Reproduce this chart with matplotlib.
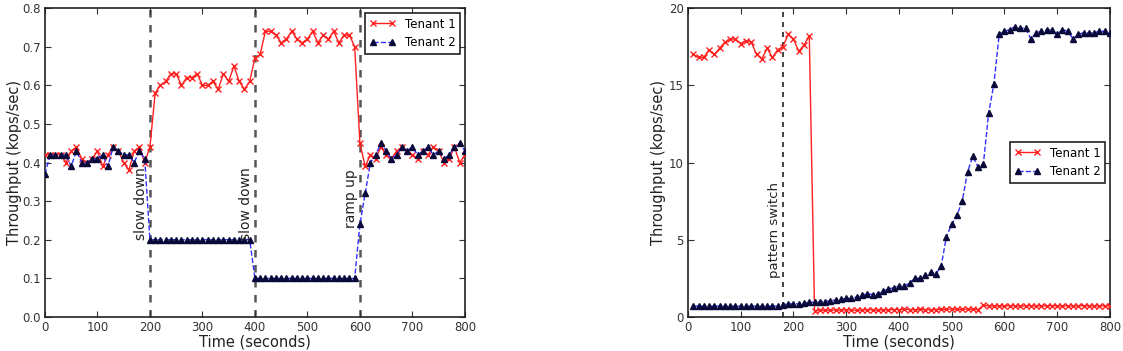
import matplotlib
matplotlib.use("Agg")
import matplotlib.pyplot as plt
import numpy as np

# ---- Left panel data ----
t_left = list(range(0, 801, 10))
left_t1 = [0.42, 0.42, 0.42, 0.42, 0.40, 0.43, 0.44, 0.41, 0.40, 0.41,
           0.43, 0.39, 0.42, 0.44, 0.43, 0.40, 0.38, 0.43, 0.44, 0.40,
           0.44, 0.58, 0.60, 0.61, 0.63, 0.63, 0.60, 0.62, 0.62, 0.63,
           0.60, 0.60, 0.61, 0.59, 0.63, 0.61, 0.65, 0.61, 0.59, 0.61,
           0.67, 0.68, 0.74, 0.74, 0.73, 0.71, 0.72, 0.74, 0.72, 0.71,
           0.72, 0.74, 0.71, 0.73, 0.72, 0.74, 0.71, 0.73, 0.73, 0.70,
           0.45, 0.39, 0.42, 0.41, 0.44, 0.42, 0.41, 0.43, 0.44, 0.43,
           0.42, 0.41, 0.43, 0.42, 0.44, 0.43, 0.40, 0.41, 0.44, 0.40,
           0.42]
left_t2 = [0.37, 0.42, 0.42, 0.42, 0.42, 0.39, 0.43, 0.40, 0.40, 0.41,
           0.41, 0.42, 0.39, 0.44, 0.43, 0.42, 0.42, 0.40, 0.43, 0.41,
           0.20, 0.20, 0.20, 0.20, 0.20, 0.20, 0.20, 0.20, 0.20, 0.20,
           0.20, 0.20, 0.20, 0.20, 0.20, 0.20, 0.20, 0.20, 0.20, 0.20,
           0.10, 0.10, 0.10, 0.10, 0.10, 0.10, 0.10, 0.10, 0.10, 0.10,
           0.10, 0.10, 0.10, 0.10, 0.10, 0.10, 0.10, 0.10, 0.10, 0.10,
           0.24, 0.32, 0.40, 0.42, 0.45, 0.43, 0.41, 0.42, 0.44, 0.43,
           0.44, 0.42, 0.43, 0.44, 0.42, 0.43, 0.41, 0.42, 0.44, 0.45,
           0.43]
left_events = [200, 400, 600]
left_event_labels = ["slow down", "slow down", "ramp up"]
left_label_y = [0.20, 0.20, 0.23]

# ---- Right panel data ----
t_right = list(range(10, 801, 10))
right_t1 = [17.0, 16.8, 16.8, 17.3, 17.0, 17.4, 17.8, 18.0, 18.0, 17.7,
            17.9, 17.8, 17.0, 16.7, 17.4, 16.8, 17.3, 17.5, 18.3, 18.0,
            17.2, 17.6, 18.2, 0.40, 0.42, 0.45, 0.43, 0.45, 0.44, 0.46,
            0.45, 0.43, 0.46, 0.47, 0.45, 0.44, 0.46, 0.45, 0.48, 0.47,
            0.50, 0.48, 0.46, 0.49, 0.47, 0.45, 0.48, 0.50, 0.49, 0.52,
            0.50, 0.49, 0.51, 0.50, 0.48, 0.75, 0.72, 0.70, 0.72, 0.71,
            0.73, 0.72, 0.70, 0.72, 0.73, 0.71, 0.72, 0.71, 0.73, 0.72,
            0.70, 0.72, 0.71, 0.72, 0.73, 0.71, 0.72, 0.71, 0.72, 0.72]
right_t2 = [0.70, 0.70, 0.70, 0.70, 0.70, 0.70, 0.70, 0.70, 0.70, 0.70,
            0.70, 0.70, 0.70, 0.70, 0.70, 0.70, 0.70, 0.80, 0.85, 0.85,
            0.85, 0.90, 0.95, 0.95, 1.00, 1.00, 1.05, 1.10, 1.15, 1.20,
            1.20, 1.30, 1.40, 1.50, 1.45, 1.50, 1.70, 1.80, 1.90, 2.00,
            2.00, 2.20, 2.50, 2.50, 2.70, 2.90, 2.80, 3.30, 5.20, 6.00,
            6.60, 7.50, 9.40, 10.4, 9.70, 9.90, 13.2, 15.1, 18.3, 18.5,
            18.6, 18.8, 18.7, 18.7, 18.0, 18.4, 18.5, 18.6, 18.6, 18.3,
            18.6, 18.5, 18.0, 18.3, 18.4, 18.4, 18.4, 18.5, 18.5, 18.4]
right_event = 180
right_event_label = "pattern switch"

plt.rcParams['font.family'] = ['DejaVu Sans']
fig = plt.figure(figsize=(11.23, 3.51), dpi=100)

tick_color = '#333333'

def style(ax):
    ax.tick_params(direction='in', top=True, right=True, labelsize=8.5,
                   colors=tick_color, length=4, width=0.8, pad=3)
    for s in ax.spines.values():
        s.set_linewidth(1.2)
        s.set_color('#222222')

t1_kw = dict(color='#ff2020', linestyle='-', linewidth=1.0, marker='x',
             markersize=4, markeredgewidth=1.0, label='Tenant 1')
t2_kw = dict(color='#3030ff', linestyle='--', linewidth=1.0, marker='^',
             markersize=5, markerfacecolor='#0a0a3a', markeredgecolor='#0a0a3a',
             label='Tenant 2')

# Left
ax1 = fig.add_axes([0.040, 0.097, 0.374, 0.880])
for xe in left_events:
    ax1.axvline(xe, color='#555555', linestyle=(0, (3, 3)), linewidth=1.8, zorder=1)
ax1.plot(t_left, left_t1, zorder=3, **t1_kw)
ax1.plot(t_left, left_t2, zorder=3, **t2_kw)
for xe, lab, yl in zip(left_events, left_event_labels, left_label_y):
    ax1.text(xe - 4, yl, lab, rotation=90, ha='right', va='bottom',
             fontsize=10, color='#222222')
ax1.set_xlim(0, 800)
ax1.set_ylim(0, 0.8)
ax1.set_xticks(range(0, 801, 100))
ax1.set_yticks(np.arange(0, 0.81, 0.1))
ax1.set_yticklabels([f"{v:.1f}" for v in np.arange(0, 0.81, 0.1)])
ax1.set_xlabel('Time (seconds)', fontsize=10.5, color='#222222', labelpad=0)
ax1.set_ylabel('Throughput (kops/sec)', fontsize=10.5, color='#222222', labelpad=0)
style(ax1)
leg1 = ax1.legend(loc='upper right', fontsize=8.5, fancybox=False, numpoints=2,
                  borderaxespad=0.4, handlelength=2.2, framealpha=1)
leg1.get_frame().set_edgecolor('#222222')
leg1.get_frame().set_linewidth(1.2)

# Right
ax2 = fig.add_axes([0.6126, 0.097, 0.3758, 0.880])
ax2.axvline(right_event, color='#222222', linestyle=(0, (3, 3)), linewidth=1.2, zorder=1)
ax2.plot(t_right, right_t1, zorder=3, **t1_kw)
ax2.plot(t_right, right_t2, zorder=3, **t2_kw)
ax2.text(right_event - 4, 2.5, right_event_label, rotation=90, ha='right',
         va='bottom', fontsize=9.5, color='#222222')
ax2.set_xlim(0, 800)
ax2.set_ylim(0, 20)
ax2.set_xticks(range(0, 801, 100))
ax2.set_yticks(range(0, 21, 5))
ax2.set_xlabel('Time (seconds)', fontsize=10.5, color='#222222', labelpad=0)
ax2.set_ylabel('Throughput (kops/sec)', fontsize=10.5, color='#222222', labelpad=2)
style(ax2)
leg2 = ax2.legend(loc='center right', fontsize=8.5, fancybox=False, numpoints=2,
                  borderaxespad=0.4, handlelength=2.2, framealpha=1)
leg2.get_frame().set_edgecolor('#222222')
leg2.get_frame().set_linewidth(1.2)

fig.savefig('out.png', dpi=100)
